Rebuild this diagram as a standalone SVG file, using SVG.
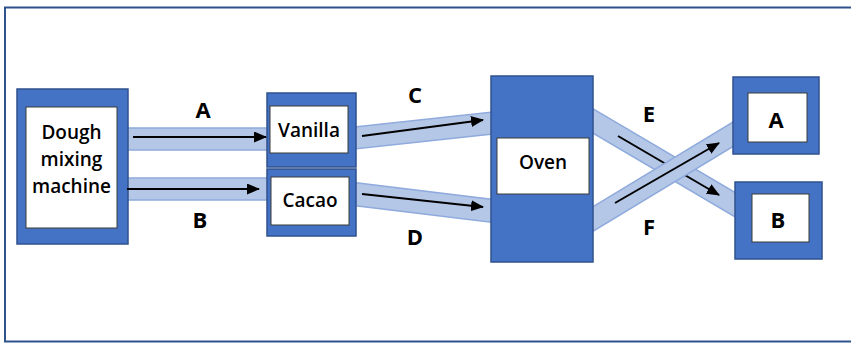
<svg xmlns="http://www.w3.org/2000/svg" width="851" height="343" viewBox="0 0 851 343">
  <defs>
    <style>
      .frame { fill: #ffffff; stroke: #2F528F; stroke-width: 2; }
      .outer { fill: #4472C4; stroke: #2F528F; stroke-width: 1.5; }
      .inner { fill: #ffffff; stroke: #3a3a3a; stroke-width: 1; }
      .band { fill: #B4C7E7; stroke: #8FAADC; stroke-width: 1.5; }
      .flow { stroke: #000000; stroke-width: 2; fill: none; marker-end: url(#head); }
      text { font-family: "Open Sans", "Liberation Sans", sans-serif; font-weight: 600; fill: #000000; text-anchor: middle; }
      .name { font-size: 19px; }
      .tag { font-size: 22px; font-weight: 700; }
    </style>
    <marker id="head" viewBox="0 0 13 11" refX="12" refY="5.5" markerWidth="6.5" markerHeight="5.5" orient="auto" markerUnits="strokeWidth">
      <path d="M0,0 L13,5.5 L0,11 Z" fill="#000000"/>
    </marker>
  </defs>

  <rect class="frame" x="5" y="7.5" width="860" height="334"/>

  <!-- bands drawn under the boxes -->
  <g id="connectors">
    <rect class="band" x="110" y="128" width="162" height="22"/>
    <rect class="band" x="110" y="178" width="162" height="22"/>
    <polygon class="band" points="350,127.5 497,111.5 497,133.5 350,149.5"/>
    <polygon class="band" points="350,182 497,200 497,223 350,205"/>
  </g>

  <g id="dough">
    <rect class="outer" x="17" y="89" width="111" height="155"/>
    <rect class="inner" x="26" y="107" width="91" height="121"/>
    <text class="name" x="71.5" y="139">Dough</text>
    <text class="name" x="71.5" y="166">mixing</text>
    <text class="name" x="71.5" y="193">machine</text>
  </g>

  <g id="vanilla">
    <rect class="outer" x="267" y="93" width="89" height="74"/>
    <rect class="inner" x="270" y="106" width="78" height="47"/>
    <text class="name" x="309" y="137">Vanilla</text>
  </g>

  <g id="cacao">
    <rect class="outer" x="267" y="169" width="89" height="67"/>
    <rect class="inner" x="271" y="177" width="78" height="48"/>
    <text class="name" x="310" y="207">Cacao</text>
  </g>

  <!-- oven outputs: E goes down to B, F crosses over it up to A -->
  <g id="connectors-out">
    <polygon class="band" points="575.3,98.4 751.3,202 740.7,220.1 564.7,116.5"/>
    <line class="flow" x1="618" y1="136" x2="719" y2="195"/>
    <polygon class="band" points="564.6,223.9 739.6,118 750.4,136 575.4,241.9"/>
    <line class="flow" x1="615" y1="203" x2="719" y2="143"/>
  </g>

  <g id="oven">
    <rect class="outer" x="491" y="76" width="102" height="186"/>
    <rect class="inner" x="497" y="138" width="92" height="56"/>
    <text class="name" x="543" y="169">Oven</text>
  </g>

  <g id="out-a">
    <rect class="outer" x="733" y="77" width="86" height="77"/>
    <rect class="inner" x="748" y="93" width="59" height="49"/>
    <text class="tag" x="776" y="128">A</text>
  </g>

  <g id="out-b">
    <rect class="outer" x="735" y="182" width="87" height="77"/>
    <rect class="inner" x="752" y="194" width="57" height="48"/>
    <text class="tag" x="778" y="228">B</text>
  </g>

  <!-- flow arrows on the straight bands -->
  <g id="arrows">
    <line class="flow" x1="133" y1="137" x2="266" y2="137"/>
    <line class="flow" x1="127" y1="189" x2="259" y2="189"/>
    <line class="flow" x1="362" y1="136" x2="483" y2="120"/>
    <line class="flow" x1="362" y1="194" x2="483" y2="207"/>
  </g>

  <g id="labels">
    <text class="tag" x="203" y="118">A</text>
    <text class="tag" x="200" y="228">B</text>
    <text class="tag" x="415" y="103">C</text>
    <text class="tag" x="415" y="245">D</text>
    <text class="tag" x="649" y="122">E</text>
    <text class="tag" x="649" y="235">F</text>
  </g>
</svg>
